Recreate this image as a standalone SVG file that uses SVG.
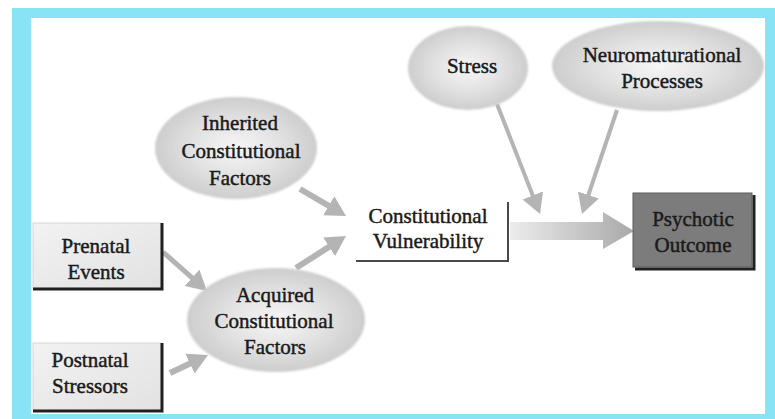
<svg xmlns="http://www.w3.org/2000/svg" width="775" height="419" viewBox="0 0 775 419">
  <style>
    .lbl { font-family: "Liberation Serif", "Times New Roman", serif; font-size: 21px; fill: #1a1a1a; stroke: #1a1a1a; stroke-width: 0.45; text-anchor: middle; }
    .conn { stroke: #b4b4b4; fill: none; marker-end: url(#head); }
    .oval { fill: url(#ovalFill); filter: url(#soft); }
    .shadow { stroke: #202020; stroke-width: 3; fill: none; }
  </style>
  <defs>
    <radialGradient id="ovalFill" cx="0.5" cy="0.5" r="0.5">
      <stop offset="0" stop-color="#f6f6f6"/>
      <stop offset="0.6" stop-color="#e0e0e0"/>
      <stop offset="1" stop-color="#cdcdcd"/>
    </radialGradient>
    <linearGradient id="boxFill" x1="0" y1="0" x2="1" y2="1">
      <stop offset="0" stop-color="#f2f2f2"/>
      <stop offset="1" stop-color="#e2e2e2"/>
    </linearGradient>
    <linearGradient id="bigArrow" x1="510" y1="0" x2="634" y2="0" gradientUnits="userSpaceOnUse">
      <stop offset="0" stop-color="#ececec"/>
      <stop offset="0.7" stop-color="#bdbdbd"/>
      <stop offset="1" stop-color="#a9a9a9"/>
    </linearGradient>
    <filter id="soft" x="-10%" y="-10%" width="120%" height="120%">
      <feGaussianBlur stdDeviation="1.3"/>
    </filter>
    <marker id="head" markerUnits="userSpaceOnUse" markerWidth="22" markerHeight="24" refX="10" refY="11" orient="auto">
      <path d="M0,0 L20,11 L0,22 Z" fill="#b4b4b4"/>
    </marker>
  </defs>

  <!-- frame -->
  <rect x="0" y="0" width="775" height="419" fill="#ffffff"/>
  <rect x="12" y="8" width="763" height="411" fill="#88e3f5"/>
  <rect x="31" y="18" width="734" height="396" fill="#ffffff"/>

  <!-- connectors -->
  <g id="connectors">
    <line class="conn" stroke-width="6" x1="300" y1="189" x2="337.4" y2="210.9"/>
    <line class="conn" stroke-width="6" x1="296" y1="268" x2="337.6" y2="241.4"/>
    <line class="conn" stroke-width="5" x1="163" y1="252" x2="199.5" y2="284.4"/>
    <line class="conn" stroke-width="6" x1="170" y1="373" x2="199.0" y2="359.3"/>
    <line class="conn" stroke-width="4" x1="497" y1="104" x2="536.4" y2="204.7"/>
    <line class="conn" stroke-width="4" x1="617" y1="110" x2="585.2" y2="204.5"/>
    <polygon points="510,222 603,222 603,212 634,231 603,249 603,240 510,240" fill="url(#bigArrow)"/>
  </g>

  <!-- nodes -->
  <g id="stress">
    <ellipse class="oval" cx="468" cy="68" rx="60" ry="42"/>
    <text class="lbl" x="472" y="73">Stress</text>
  </g>

  <g id="neuromaturational">
    <ellipse class="oval" cx="658" cy="66" rx="106" ry="45"/>
    <text class="lbl" x="662" y="62">Neuromaturational</text>
    <text class="lbl" x="662" y="88">Processes</text>
  </g>

  <g id="inherited">
    <ellipse class="oval" cx="236" cy="148" rx="81" ry="51"/>
    <text class="lbl" x="240" y="130">Inherited</text>
    <text class="lbl" x="241" y="158">Constitutional</text>
    <text class="lbl" x="240" y="185">Factors</text>
  </g>

  <g id="acquired">
    <ellipse class="oval" cx="276" cy="320" rx="89" ry="52"/>
    <text class="lbl" x="275" y="302">Acquired</text>
    <text class="lbl" x="274" y="328">Constitutional</text>
    <text class="lbl" x="275" y="354">Factors</text>
  </g>

  <g id="prenatal">
    <rect x="33" y="223" width="128" height="65" fill="url(#boxFill)" stroke="#d6d6d6" stroke-width="1"/>
    <polyline class="shadow" points="162,223 162,289 33,289"/>
    <text class="lbl" x="96" y="253">Prenatal</text>
    <text class="lbl" x="96" y="279">Events</text>
  </g>

  <g id="postnatal">
    <rect x="33" y="343" width="128" height="67" fill="url(#boxFill)" stroke="#d6d6d6" stroke-width="1"/>
    <polyline class="shadow" points="162,343 162,411 33,411"/>
    <text class="lbl" x="90" y="367">Postnatal</text>
    <text class="lbl" x="90" y="393">Stressors</text>
  </g>

  <g id="vulnerability">
    <rect x="356" y="202" width="151" height="58" fill="#ffffff"/>
    <polyline points="508,202 508,261 356,261" fill="none" stroke="#4a4a4a" stroke-width="2"/>
    <text class="lbl" x="428" y="223">Constitutional</text>
    <text class="lbl" x="428" y="248">Vulnerability</text>
  </g>

  <g id="outcome">
    <rect x="633" y="193" width="119" height="74" fill="#7c7c7c" stroke="#5a5a5a" stroke-width="1"/>
    <polyline class="shadow" points="754,195 754,269 635,269"/>
    <text class="lbl" x="693" y="226">Psychotic</text>
    <text class="lbl" x="693" y="252">Outcome</text>
  </g>
</svg>
